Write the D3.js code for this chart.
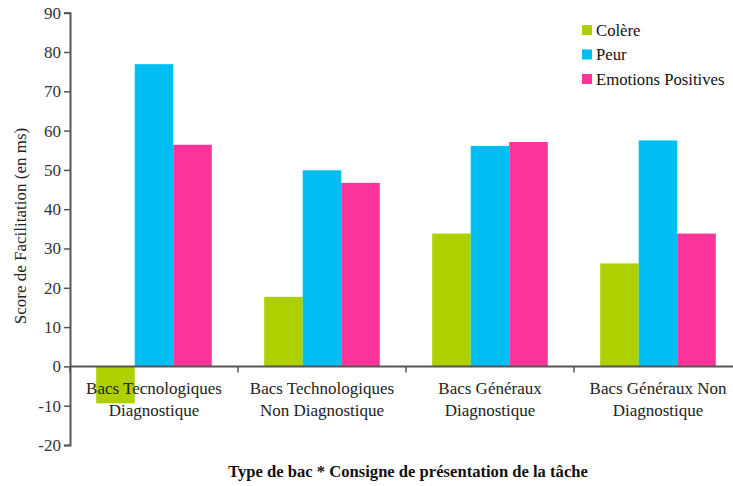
<!DOCTYPE html>
<html>
<head>
<meta charset="utf-8">
<script src="https://cdn.jsdelivr.net/npm/d3@7"></script>
<style>
  html, body { margin: 0; padding: 0; background: #fff; }
  svg text { font-family: "Liberation Serif", "DejaVu Serif", serif; }
</style>
</head>
<body>
<svg id="chart" width="733" height="486"></svg>
<script>
// Facilitation scores (ms) by type of bac and task instruction
const categories = [
  ["Bacs Tecnologiques", "Diagnostique"],
  ["Bacs Technologiques", "Non Diagnostique"],
  ["Bacs Généraux", "Diagnostique"],
  ["Bacs Généraux Non", "Diagnostique"]
];
const seriesNames = ["Colère", "Peur", "Emotions Positives"];
const colere = [-9.4, 17.7, 33.8, 26.2];
const peur = [76.9, 49.9, 56.1, 57.5];
const emotionsPositives = [56.4, 46.7, 57.1, 33.8];
const yTicks = [-20, -10, 0, 10, 20, 30, 40, 50, 60, 70, 80, 90];
const colors = ["#aed000", "#00bef2", "#fc3399"];

const seriesValues = [colere, peur, emotionsPositives];
const svg = d3.select("#chart");
const serif = "'Liberation Serif', 'DejaVu Serif', serif";

const m = { left: 70, right: 742, top: 12.7, bottom: 445 };
const catIdx = categories.map((d, i) => i);

const x0 = d3.scaleBand().domain(catIdx).range([m.left, m.right]).paddingInner(0).paddingOuter(0);
const x1 = d3.scaleBand().domain(d3.range(seriesNames.length))
  .range([0, x0.bandwidth()]).paddingInner(0).paddingOuter(0.68);
const y = d3.scaleLinear().domain([-20, 90]).range([m.bottom, m.top]);

// bars
const groups = svg.append("g").selectAll("g").data(catIdx).join("g")
  .attr("transform", i => `translate(${x0(i)},0)`);
groups.selectAll("rect")
  .data(i => seriesValues.map((vals, s) => ({ s, v: vals[i] })))
  .join("rect")
  .attr("x", d => x1(d.s))
  .attr("width", x1.bandwidth())
  .attr("y", d => y(Math.max(0, d.v)))
  .attr("height", d => Math.abs(y(d.v) - y(0)))
  .attr("fill", d => colors[d.s]);

// y axis
const yAxis = svg.append("g").attr("transform", `translate(${m.left},0)`)
  .call(d3.axisLeft(y).tickValues(yTicks).tickSize(6).tickPadding(3).tickFormat(d => String(d)))
  .attr("font-family", serif);
yAxis.select(".domain").attr("stroke", "#555").attr("stroke-width", 2);
yAxis.selectAll(".tick line").attr("stroke", "#555").attr("stroke-width", 1.5);
yAxis.selectAll(".tick text").attr("fill", "#333").attr("font-size", 17);

// x axis at zero
const xAxis = svg.append("g").attr("transform", `translate(0,${y(0)})`);
xAxis.append("line").attr("x1", m.left).attr("x2", 733).attr("stroke", "#555").attr("stroke-width", 2);
xAxis.selectAll("line.tk").data(d3.range(categories.length + 1)).join("line").attr("class", "tk")
  .attr("x1", i => m.left + i * x0.bandwidth()).attr("x2", i => m.left + i * x0.bandwidth())
  .attr("y1", 0).attr("y2", 6).attr("stroke", "#555").attr("stroke-width", 1.5);

// category labels
const labels = svg.append("g").selectAll("text").data(catIdx).join("text")
  .attr("x", i => x0(i) + x0.bandwidth() / 2)
  .attr("text-anchor", "middle")
  .attr("fill", "#222")
  .attr("font-size", 17);
labels.append("tspan").attr("x", i => x0(i) + x0.bandwidth() / 2).attr("y", 394).text(i => categories[i][0]);
labels.append("tspan").attr("x", i => x0(i) + x0.bandwidth() / 2).attr("y", 416).text(i => categories[i][1]);

// axis titles
svg.append("text")
  .attr("transform", `translate(26,226) rotate(-90)`)
  .attr("text-anchor", "middle").attr("fill", "#222").attr("font-size", 17)
  .text("Score de Facilitation (en ms)");
svg.append("text")
  .attr("x", 408).attr("y", 477).attr("text-anchor", "middle")
  .attr("fill", "#111").attr("font-size", 16.6).attr("font-weight", "bold")
  .text("Type de bac * Consigne de présentation de la tâche");

// legend
const legend = svg.append("g").selectAll("g").data(seriesNames).join("g")
  .attr("transform", (d, i) => `translate(582,${30 + i * 24.5})`);
legend.append("rect").attr("x", 0).attr("y", -5).attr("width", 10).attr("height", 10)
  .attr("fill", (d, i) => colors[i]);
legend.append("text").attr("x", 14).attr("y", 5.5).attr("fill", "#111")
  .attr("font-size", 16.7).text(d => d);
</script>
</body>
</html>
